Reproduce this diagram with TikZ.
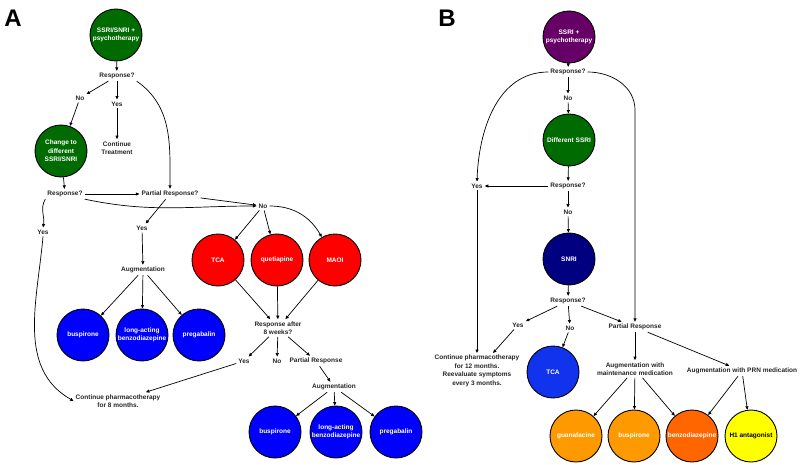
\documentclass[tikz,border=0pt]{standalone}
\usepackage{fontspec}
\setmainfont{Liberation Sans}
\usetikzlibrary{arrows.meta}
\definecolor{drgreen}{HTML}{006B00}
\definecolor{drred}{HTML}{FF0000}
\definecolor{drblue}{HTML}{0000FF}
\definecolor{drpurple}{HTML}{660066}
\definecolor{drnavy}{HTML}{000080}
\definecolor{drtca}{HTML}{1133EE}
\definecolor{drorange}{HTML}{FF9900}
\definecolor{drdeep}{HTML}{FF6600}
\definecolor{dryellow}{HTML}{FFFF00}
\begin{document}
\begin{tikzpicture}[x=1pt,y=1pt,
    every node/.style={font=\fontsize{6.5}{8.5}\selectfont\bfseries, align=center, inner sep=2pt, text=black!85},
    drug/.style={circle, draw=black, line width=0.9pt, minimum size=52pt, inner sep=0pt, text=white},
    panel/.style={font=\fontsize{24}{24}\selectfont\bfseries, text=black},
    arr/.style={-{Triangle[length=3.5pt,width=3pt]}, line width=0.7pt}]
  \useasboundingbox (0,0) rectangle (800,-465);

  % panel A
  \node[panel] (alabel) at (13,-18) {A};
  \node[drug, fill=drgreen] (a1) at (116,-35) {SSRI/SNRI +\\psychotherapy};
  \node (ar1) at (117,-76) {Response?};
  \node (ano1) at (80,-98) {No};
  \node (ayes1) at (117,-104) {Yes};
  \node (acont) at (117,-148) {Continue\\Treatment};
  \node[drug, fill=drgreen] (a2) at (61,-151) {Change to\\different\\SSRI/SNRI};
  \node (ar2) at (65,-194) {Response?};
  \node (apr) at (170,-194) {Partial Response?};
  \node (ano2) at (263,-206) {No};
  \node (ayesl) at (43,-232) {Yes};
  \node (ayesm) at (142,-228) {Yes};
  \node (aaug1) at (143,-270) {Augmentation};
  \node[drug, fill=drblue] (abus1) at (83,-335) {buspirone};
  \node[drug, fill=drblue] (along1) at (142,-335) {long-acting\\benzodiazepine};
  \node[drug, fill=drblue] (apreg1) at (199,-335) {pregabalin};
  \node[drug, fill=drred] (atca) at (218,-260) {TCA};
  \node[drug, fill=drred] (aque) at (277,-260) {quetiapine};
  \node[drug, fill=drred] (amaoi) at (335,-260) {MAOI};
  \node (ar8) at (278,-328) {Response after\\8 weeks?};
  \node (ayesr) at (244,-361) {Yes};
  \node (anor) at (277,-361) {No};
  \node (aprr) at (316,-361) {Partial Response};
  \node (aaug2) at (334,-387) {Augmentation};
  \node[drug, fill=drblue] (abus2) at (275,-432) {buspirone};
  \node[drug, fill=drblue] (along2) at (336,-432) {long-acting\\benzodiazepine};
  \node[drug, fill=drblue] (apreg2) at (396,-432) {pregabalin};
  \node (acont8) at (118,-401) {Continue pharmacotherapy\\for 8 months.};

  \draw[arr] (a1) -- (ar1);
  \draw[arr] (ar1) -- (ano1);
  \draw[arr] (ar1) -- (ayes1);
  \draw[arr] (ayes1) -- (acont);
  \draw[arr] (ar1.south east) to[out=-35,in=90] (apr.north);
  \draw[arr] (ano1) -- (a2);
  \draw[arr] (a2) -- (ar2);
  \draw[arr] (ar2) -- (apr);
  \draw[arr] (ar2.south east) to[out=-12,in=180] (ano2.west);
  \draw[arr] (ar2.south west) to[out=-120,in=80] (ayesl.north);
  \draw[arr] (ayesl.south) to[out=-95,in=150] (acont8.west);
  \draw[arr] (apr) -- (ano2);
  \draw[arr] (apr) -- (ayesm);
  \draw[arr] (ayesm) -- (aaug1);
  \draw[arr] (aaug1) -- (abus1);
  \draw[arr] (aaug1) -- (along1);
  \draw[arr] (aaug1) -- (apreg1);
  \draw[arr] (ano2) -- (atca);
  \draw[arr] (ano2) -- (aque);
  \draw[arr] (ano2.east) to[out=0,in=120] (amaoi);
  \draw[arr] (atca) -- (ar8);
  \draw[arr] (aque) -- (ar8);
  \draw[arr] (amaoi) -- (ar8);
  \draw[arr] (ar8) -- (ayesr);
  \draw[arr] (ar8) -- (anor);
  \draw[arr] (ar8) -- (aprr);
  \draw[arr] (ayesr) -- (acont8);
  \draw[arr] (aprr) -- (aaug2);
  \draw[arr] (aaug2) -- (abus2);
  \draw[arr] (aaug2) -- (along2);
  \draw[arr] (aaug2) -- (apreg2);

  % panel B
  \node[panel] (blabel) at (447,-18) {B};
  \node[drug, fill=drpurple] (b1) at (569,-37) {SSRI +\\psychotherapy};
  \node (br1) at (568,-72) {Response?};
  \node (bno1) at (568,-98) {No};
  \node[drug, fill=drgreen] (b2) at (569,-140) {Different SSRI};
  \node (br2) at (568,-186) {Response?};
  \node (byes1) at (477,-186) {Yes};
  \node (bno2) at (568,-212) {No};
  \node[drug, fill=drnavy] (b3) at (569,-259) {SNRI};
  \node (br3) at (568,-301) {Response?};
  \node (byes3) at (518,-325) {Yes};
  \node (bno3) at (570,-328) {No};
  \node (bpr) at (635,-327) {Partial Response};
  \node[drug, fill=drtca] (btca) at (553,-372) {TCA};
  \node (bcont) at (477,-371) {Continue pharmacotherapy\\for 12 months.\\Reevaluate symptoms\\every 3 months.};
  \node (baugm) at (635,-369) {Augmentation with\\maintenance medication};
  \node (baugp) at (742,-371) {Augmentation with PRN medication};
  \node[drug, fill=drorange] (bguan) at (576,-436) {guanafacine};
  \node[drug, fill=drorange] (bbus) at (634,-436) {buspirone};
  \node[drug, fill=drdeep] (bbenz) at (692,-436) {benzodiazepine};
  \node[drug, fill=dryellow, text=black] (bh1) at (751,-436) {H1 antagonist};

  \draw[arr] (b1) -- (br1);
  \draw[arr] (br1) -- (bno1);
  \draw[arr] (bno1) -- (b2);
  \draw[arr] (br1.west) to[out=180,in=88] (byes1.north);
  \draw[arr] (br1.east) to[out=0,in=90] (bpr.north |- 0,-110) -- (bpr.north);
  \draw[arr] (b2) -- (br2);
  \draw[arr] (br2) -- (byes1);
  \draw[arr] (br2) -- (bno2);
  \draw[arr] (bno2) -- (b3);
  \draw[arr] (byes1) -- (bcont);
  \draw[arr] (b3) -- (br3);
  \draw[arr] (br3) -- (byes3);
  \draw[arr] (br3) -- (bno3);
  \draw[arr] (br3) -- (bpr);
  \draw[arr] (byes3) -- (bcont);
  \draw[arr] (bno3) -- (btca);
  \draw[arr] (bpr) -- (baugm);
  \draw[arr] (bpr) -- (baugp);
  \draw[arr] (baugm) -- (bguan);
  \draw[arr] (baugm) -- (bbus);
  \draw[arr] (baugm) -- (bbenz);
  \draw[arr] (baugp) -- (bbenz);
  \draw[arr] (baugp) -- (bh1);
\end{tikzpicture}
\end{document}
